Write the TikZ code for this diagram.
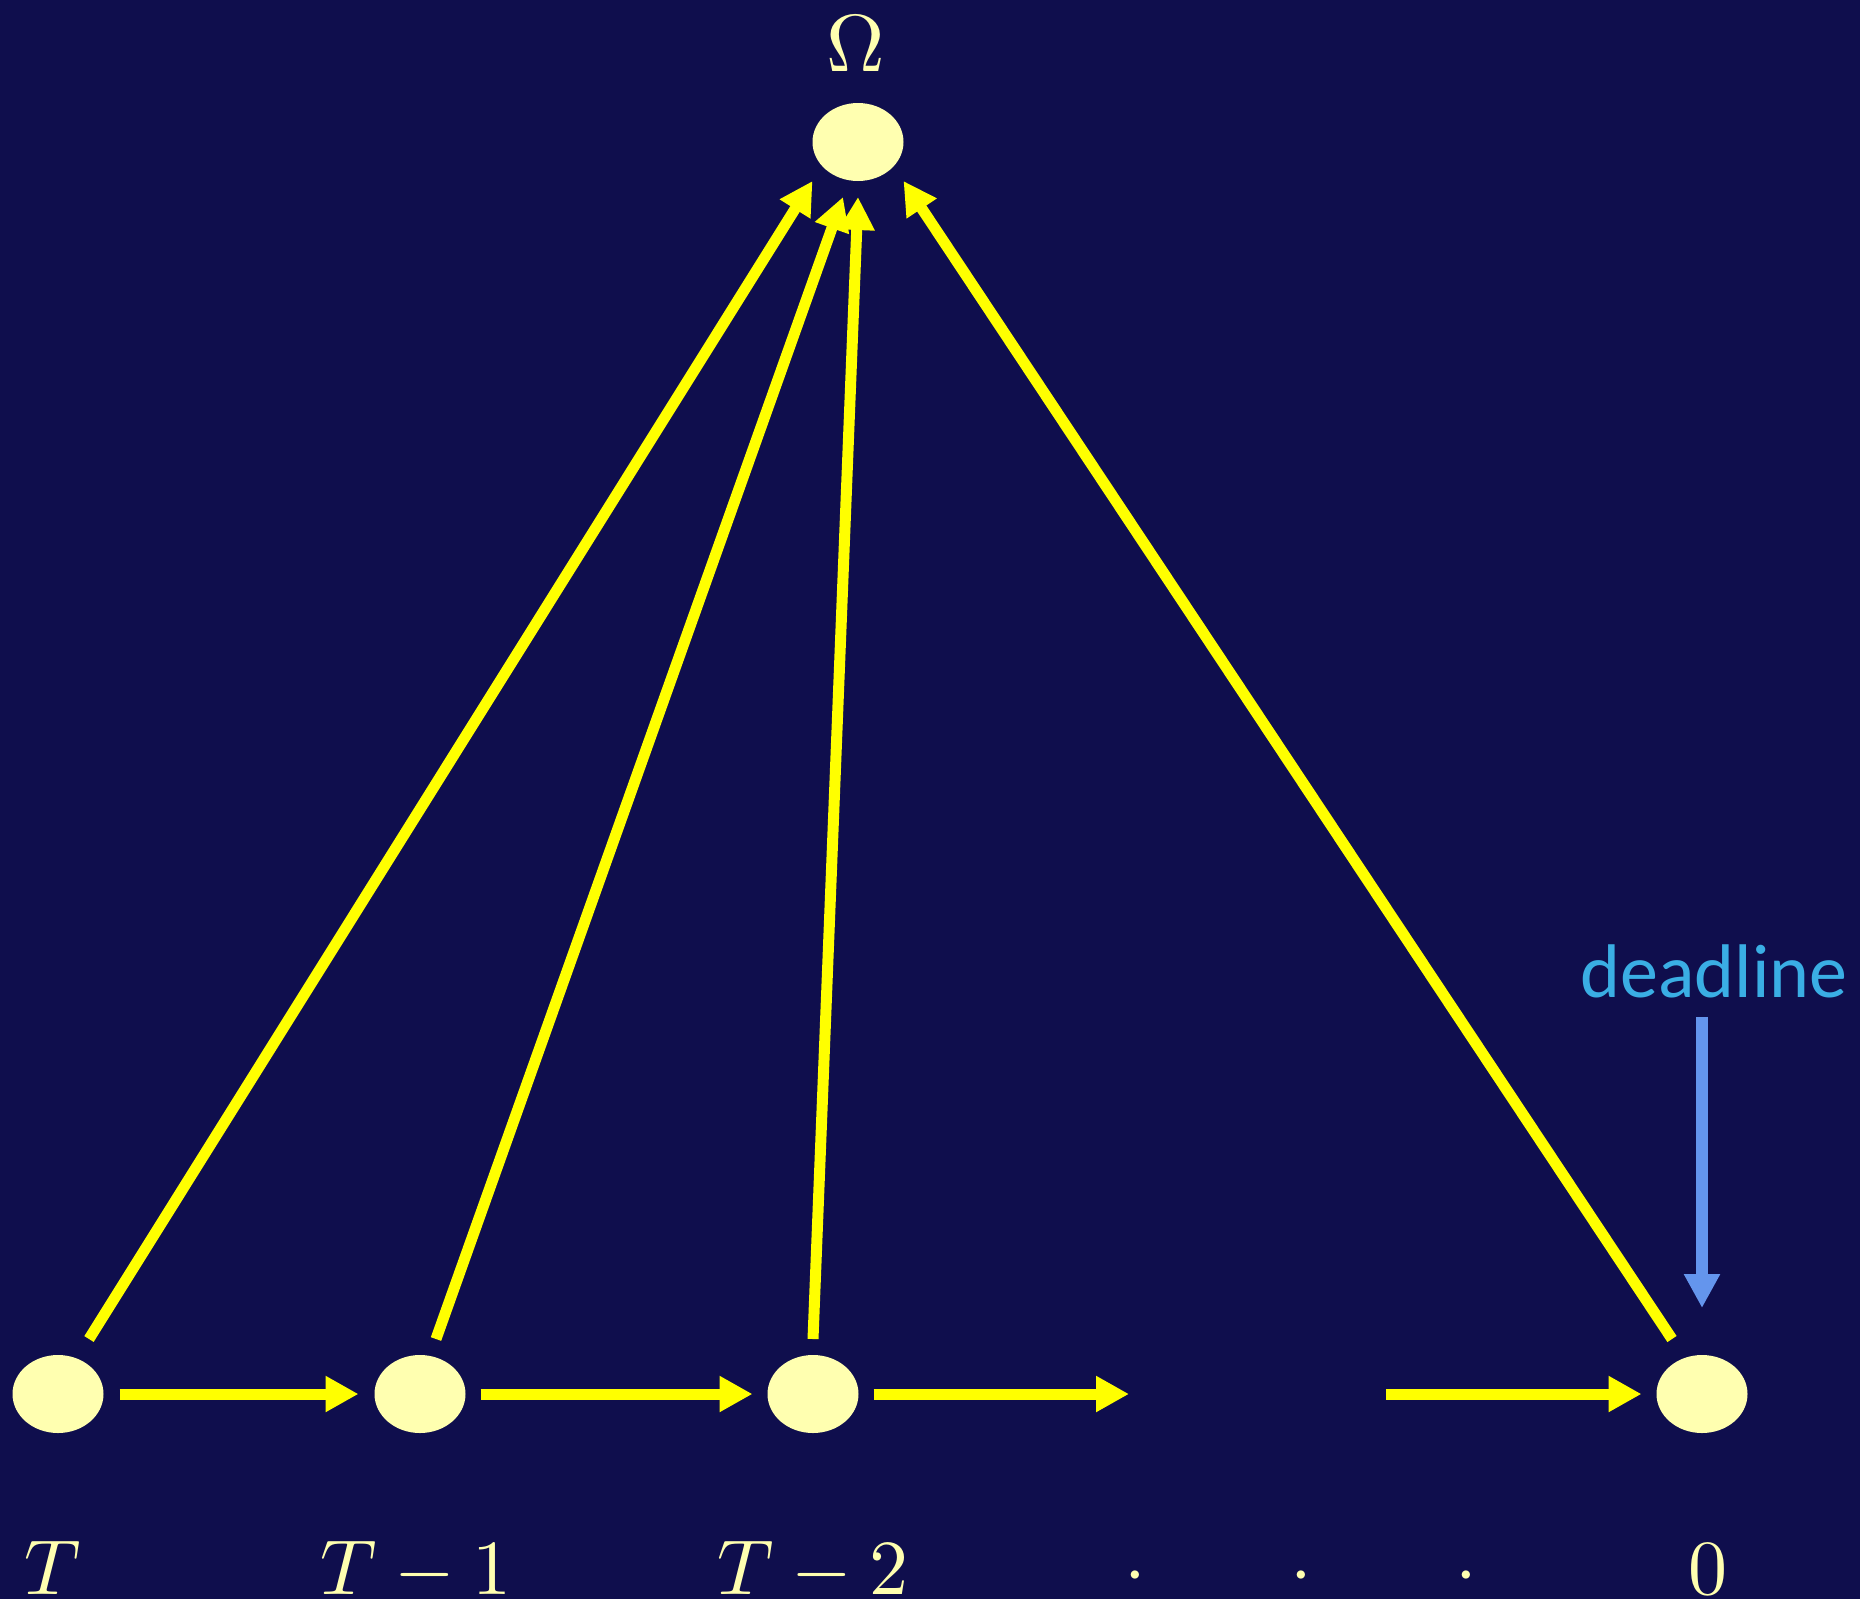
\documentclass[tikz,border=0pt]{standalone}
\usepackage{fontspec}
\usetikzlibrary{arrows.meta,shapes.geometric,calc}
\newfontfamily\dlfont{Carlito}
\definecolor{bgc}{RGB}{15,14,77}
\definecolor{nodefill}{RGB}{255,255,176}
\definecolor{yel}{RGB}{255,255,0}
\definecolor{dlc}{RGB}{58,174,228}
\definecolor{dla}{RGB}{100,149,237}
\begin{document}
\begin{tikzpicture}[x=1pt,y=-1pt,
  state/.style={ellipse,fill=nodefill,minimum width=91pt,minimum height=78pt,inner sep=0pt,outer sep=0pt},
  lab/.style={text=nodefill,scale=7.8,anchor=base,inner sep=0pt,text depth=0pt},
  yarrow/.style={draw=yel,line width=11pt,-{Triangle[length=33pt,width=34pt]}},
  barrow/.style={draw=dla,line width=12pt,-{Triangle[length=34pt,width=34pt]}}]
\fill[bgc] (0,0) rectangle (1860,1599);
\useasboundingbox (0,0) rectangle (1860,1599);
% states
\node[state] (Om) at (858,142) {};
\node[state] (T) at (58,1394) {};
\node[state] (T1) at (420,1394) {};
\node[state] (T2) at (813,1394) {};
\node[state] (N0) at (1702,1394) {};
% labels
\node[lab,scale=8.1/7.8] (lOm) at (856,71) {$\Omega$};
\node[lab] (lT) at (53,1594) {$T$};
\node[lab] (lT1) at (416,1594) {$T-1$};
\node[lab] (lT2) at (813,1594) {$T-2$};
\node[lab] (d1) at (1135,1594) {$\cdot$};
\node[lab] (d2) at (1301,1594) {$\cdot$};
\node[lab] (d3) at (1466,1594) {$\cdot$};
\node[lab] (l0) at (1708,1594) {$0$};
\node[text=dlc,font=\dlfont\fontsize{76}{90}\selectfont,anchor=base,inner sep=0pt] (dl) at (1714,997) {deadline};
% horizontal chain
\coordinate (h3e) at (1129,1394);
\coordinate (h4s) at (1386,1394);
\draw[yarrow,shorten <=16pt,shorten >=16pt] (T) -- (T1);
\draw[yarrow,shorten <=15pt,shorten >=15pt] (T1) -- (T2);
\draw[yarrow,shorten <=15pt] (T2) -- (h3e);
\draw[yarrow,shorten >=15pt] (h4s) -- (N0);
% arrows to Omega
\draw[yarrow] ($(T)+(31,-55)$) -- (Om.south -| Om.west);
\draw[yarrow] ($(T1)+(16,-55)$) -- ($(Om.south)+(-15,16)$);
\draw[yarrow] ($(T2)+(0,-55)$) -- ($(Om.south)+(0,16)$);
\draw[yarrow] ($(N0)+(-30,-55)$) -- (Om.south -| Om.east);
% deadline arrow
\draw[barrow,shorten <=19pt,shorten >=47pt] (dl.south -| N0) -- (N0.north);
\end{tikzpicture}
\end{document}
